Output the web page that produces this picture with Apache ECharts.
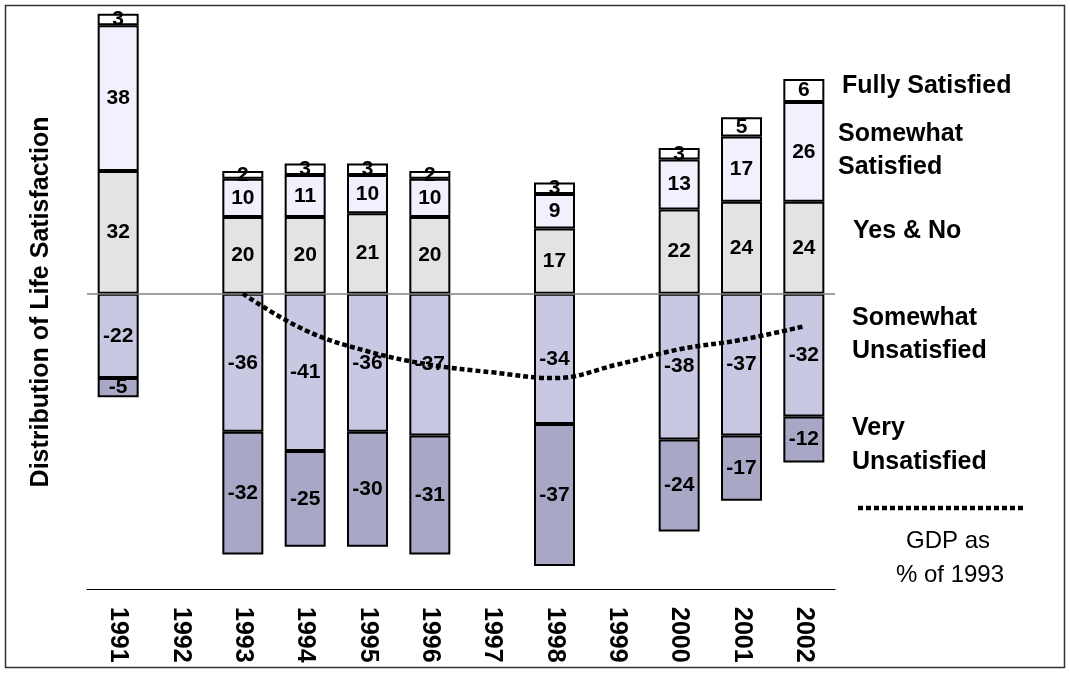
<!DOCTYPE html>
<html>
<head>
<meta charset="utf-8">
<script src="https://cdn.jsdelivr.net/npm/echarts@6.0.0/dist/echarts.min.js"></script>
<style>
  html, body { margin: 0; padding: 0; background: #fff; }
  #chart { width: 1070px; height: 675px; }
</style>
</head>
<body>
<div id="chart"></div>
<script>
// data
var years = ['1991', '1992', '1993', '1994', '1995', '1996', '1997', '1998', '1999', '2000', '2001', '2002'];
var fullySatisfied = [3, null, 2, 3, 3, 2, null, 3, null, 3, 5, 6];
var somewhatSatisfied = [38, null, 10, 11, 10, 10, null, 9, null, 13, 17, 26];
var yesAndNo = [32, null, 20, 20, 21, 20, null, 17, null, 22, 24, 24];
var somewhatUnsatisfied = [-22, null, -36, -41, -36, -37, null, -34, null, -38, -37, -32];
var veryUnsatisfied = [-5, null, -32, -25, -30, -31, null, -37, null, -24, -17, -12];
// GDP index drawn on the same scale (0 = 1993 level)
var gdpLine = [null, null, 0, -9.5, -15, -18.5, -20.5, -22, -18.5, -14.5, -12, -8.5];

var FONT = '"Liberation Sans", Arial, sans-serif';

function barSeries(name, data, color) {
    return {
        name: name,
        type: 'bar',
        stack: 'total',
        data: data,
        barWidth: 41,
        itemStyle: { color: color, borderColor: '#000', borderWidth: 2 },
        label: {
            show: true, position: 'inside',
            color: '#000', fontSize: 21, fontWeight: 'bold', fontFamily: FONT
        }
    }
}

function sideLabel(x, y, text) {
    return { type: 'text', x: x, y: y,
             style: { text: text, fill: '#000', font: 'bold 25px ' + FONT, verticalAlign: 'middle' } }
}

var chart = echarts.init(document.getElementById('chart'));

chart.setOption({
    animation: false,
    grid: { left: 87, right: 235, top: 10, bottom: 86 },
    xAxis: {
        type: 'category',
        data: years,
        axisLine: { onZero: false, lineStyle: { color: '#000', width: 1 } },
        axisTick: { length: 8, lineStyle: { color: '#000' } },
        axisLabel: {
            rotate: -90, margin: 18, color: '#000',
            fontSize: 25, fontWeight: 'bold', fontFamily: FONT
        }
    },
    yAxis: {
        type: 'value', min: -77, max: 74,
        show: false
    },
    series: [
        Object.assign(barSeries('Yes & No', yesAndNo, '#e3e3e3'), {
            markLine: {
                silent: true, symbol: 'none', label: { show: false },
                lineStyle: { color: '#808080', width: 1.5, type: 'solid' },
                data: [{ yAxis: 0 }]
            }
        }),
        barSeries('Somewhat Satisfied', somewhatSatisfied, '#f1f1fd'),
        barSeries('Fully Satisfied', fullySatisfied, '#ffffff'),
        barSeries('Somewhat Unsatisfied', somewhatUnsatisfied, '#c8c8e2'),
        barSeries('Very Unsatisfied', veryUnsatisfied, '#a8a8c6'),
        {
            name: 'GDP as % of 1993',
            type: 'line',
            data: gdpLine,
            smooth: 0.4,
            symbol: 'none',
            z: 5,
            lineStyle: { color: '#000', width: 4.5, type: [5, 3] }
        }
    ],
    graphic: [
        { type: 'rect', shape: { x: 5.5, y: 5.5, width: 1059, height: 662 },
          style: { fill: null, stroke: '#333', lineWidth: 1.5 }, silent: true },
        { type: 'text', x: 41, y: 302, rotation: Math.PI / 2,
          style: { text: 'Distribution of Life Satisfaction', fill: '#000',
                   font: 'bold 25px ' + FONT, align: 'center', verticalAlign: 'middle' } },
        sideLabel(842, 86, 'Fully Satisfied'),
        sideLabel(838, 134, 'Somewhat'),
        sideLabel(838, 167, 'Satisfied'),
        sideLabel(853, 231, 'Yes & No'),
        sideLabel(852, 318, 'Somewhat'),
        sideLabel(852, 351, 'Unsatisfied'),
        sideLabel(852, 428, 'Very'),
        sideLabel(852, 462, 'Unsatisfied'),
        { type: 'line', shape: { x1: 858, y1: 508, x2: 1025, y2: 508 },
          style: { stroke: '#000', lineWidth: 4.5, lineDash: [5, 3] } },
        { type: 'text', x: 948, y: 541, style: { text: 'GDP as', fill: '#000', font: '24px ' + FONT, align: 'center', verticalAlign: 'middle' } },
        { type: 'text', x: 950, y: 575, style: { text: '% of 1993', fill: '#000', font: '24px ' + FONT, align: 'center', verticalAlign: 'middle' } }
    ]
});
window.onresize = function () { chart.resize() }
</script>
</body>
</html>
